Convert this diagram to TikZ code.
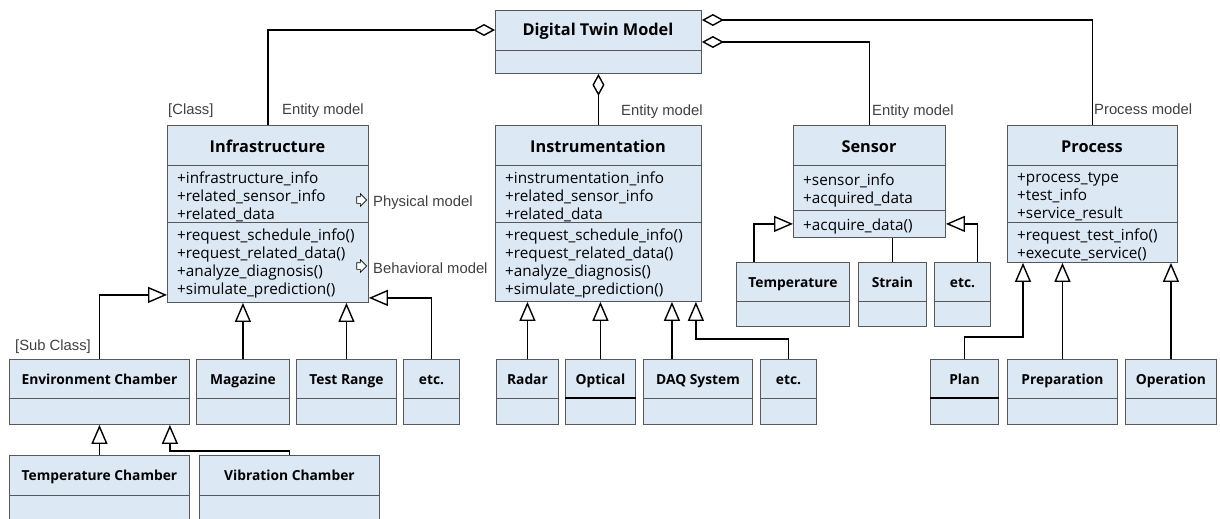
\documentclass[tikz,border=0pt]{standalone}
\usepackage{fontspec}
\setmainfont{Open Sans}
\newfontfamily\labelfont{Liberation Sans}
\usetikzlibrary{arrows.meta,shapes.arrows}
\definecolor{boxfill}{RGB}{221,232,245}
\definecolor{boxline}{RGB}{88,88,88}
\definecolor{labelgray}{RGB}{64,64,64}

\begin{document}
\begin{tikzpicture}[x=1pt,y=-1pt,
    classbox/.style={draw=boxline, fill=boxfill, line width=0.9pt, anchor=north west, inner sep=0pt},
    divline/.style={draw=boxline, line width=0.9pt},
    classtitle/.style={anchor=base, inner sep=0pt, font=\fontsize{16.3}{18}\selectfont\bfseries},
    subtitle/.style={anchor=base, inner sep=0pt, font=\fontsize{13.8}{16}\selectfont\bfseries},
    members/.style={anchor=north west, align=left, inner sep=0pt, font=\fontsize{15.3}{18}\selectfont},
    lbl/.style={font=\labelfont\fontsize{14.8}{16}\selectfont, text=labelgray, inner sep=0pt, anchor=base west},
    conn/.style={line width=1.4pt},
    agg/.style={conn, -{Diamond[open, length=22pt, width=12pt]}},
    gen/.style={conn, -{Triangle[open, length=19pt, width=16pt]}},
    hollowarrow/.style={single arrow, draw=black, fill=white, line width=0.7pt, inner sep=3pt, minimum height=8pt, single arrow head extend=3pt}
]
\useasboundingbox (0,0) rectangle (1220,519);
\clip (0,0) rectangle (1220,519);

% Main classes
\node[classbox, minimum width=206, minimum height=63] (dtm) at (495,10) {};
\draw[divline] ([yshift=-40pt]dtm.north west) -- ([yshift=-40pt]dtm.north east);
\node[classtitle] (dtmtitle) at (598,36) {Digital Twin Model};

\node[classbox, minimum width=201, minimum height=177] (infra) at (167,125) {};
\draw[divline] ([yshift=-40pt]infra.north west) -- ([yshift=-40pt]infra.north east);
\draw[divline] ([yshift=-97pt]infra.north west) -- ([yshift=-97pt]infra.north east);
\node[classtitle] (infratitle) at (267.5,152) {Infrastructure};
\node[members] (infraattr) at (177,170.4) {\strut+infrastructure\_info\\+related\_sensor\_info\\+related\_data};
\node[members] (infraop) at (177,227.4) {\strut+request\_schedule\_info()\\+request\_related\_data()\\+analyze\_diagnosis()\\+simulate\_prediction()};

\node[classbox, minimum width=206, minimum height=176] (instr) at (495,125) {};
\draw[divline] ([yshift=-40pt]instr.north west) -- ([yshift=-40pt]instr.north east);
\draw[divline] ([yshift=-97pt]instr.north west) -- ([yshift=-97pt]instr.north east);
\node[classtitle] (instrtitle) at (598,152) {Instrumentation};
\node[members] (instrattr) at (505,170.4) {\strut+instrumentation\_info\\+related\_sensor\_info\\+related\_data};
\node[members] (instrop) at (505,227.4) {\strut+request\_schedule\_info()\\+request\_related\_data()\\+analyze\_diagnosis()\\+simulate\_prediction()};

\node[classbox, minimum width=152, minimum height=112] (sensor) at (793,125) {};
\draw[divline] ([yshift=-40pt]sensor.north west) -- ([yshift=-40pt]sensor.north east);
\draw[divline] ([yshift=-85pt]sensor.north west) -- ([yshift=-85pt]sensor.north east);
\node[classtitle] (sensortitle) at (869,152) {Sensor};
\node[members] (sensorattr) at (803,172.4) {\strut+sensor\_info\\+acquired\_data};
\node[members] (sensorop) at (803,217.4) {\strut+acquire\_data()};

\node[classbox, minimum width=170, minimum height=137] (process) at (1007,125) {};
\draw[divline] ([yshift=-40pt]process.north west) -- ([yshift=-40pt]process.north east);
\draw[divline] ([yshift=-97pt]process.north west) -- ([yshift=-97pt]process.north east);
\node[classtitle] (processtitle) at (1092,152) {Process};
\node[members] (processattr) at (1017,169.4) {\strut+process\_type\\+test\_info\\+service\_result};
\node[members] (processop) at (1017,227.4) {\strut+request\_test\_info()\\+execute\_service()};

% Sub classes
\foreach \nm/\x/\y/\w/\h/\t/\txt in {
    envch/9/359/180/65/39/Environment Chamber,
    mag/196/359/93/65/39/Magazine,
    testrange/296/359/100/65/39/Test Range,
    infraetc/403/359/56/65/39/etc.,
    tempch/9/455/180/70/40/Temperature Chamber,
    vibch/199/455/180/70/40/Vibration Chamber,
    radar/496/359/62/65/39/Radar,
    optical/565/359/70/65/39/Optical,
    daq/643/359/109/65/39/DAQ System,
    instretc/760/359/56/65/39/etc.,
    temp/736/262/113/64/39/Temperature,
    strain/858/262/68/64/39/Strain,
    sensetc/934/262/56/64/39/etc.,
    plan/930/359/68/65/39/Plan,
    prep/1007/359/110/65/39/Preparation,
    oper/1125/359/91/65/39/Operation}{
  \node[classbox, minimum width=\w, minimum height=\h] (\nm) at (\x,\y) {};
  \draw[divline] ([yshift=-\t pt]\nm.north west) -- ([yshift=-\t pt]\nm.north east);
  \node[subtitle] (\nm title) at ([yshift=-25.5pt]\nm.north) {\txt};
}
\draw[line width=1.5pt] ([yshift=-39pt]optical.north west) -- ([yshift=-39pt]optical.north east);
\draw[line width=1.5pt] ([yshift=-39pt]plan.north west) -- ([yshift=-39pt]plan.north east);

% Aggregation
\draw[agg] (infra.north) |- ([yshift=-20pt]dtm.north west);
\draw[agg] (instr.north) -- (dtm.south);
\draw[agg] (sensor.north) |- ([yshift=-32pt]dtm.north east);
\draw[agg] (process.north) |- ([yshift=-10pt]dtm.north east);

% Generalization
\draw[gen] (envch.north) |- ([yshift=8pt]infra.south west);
\draw[gen] (mag.north) -- (mag.north |- infra.south);
\draw[gen] (testrange.north) -- (testrange.north |- infra.south);
\draw[gen] (infraetc.north) |- ([yshift=5pt]infra.south east);
\draw[gen] (tempch.north) -- (tempch.north |- envch.south);
\draw[gen] (vibch.north) -- ++(0,-4) -| ([xshift=-20pt]envch.south east);
\draw[gen] (radar.north) -- (radar.north |- instr.south);
\draw[gen] (optical.north) -- (optical.north |- instr.south);
\draw[gen] ([xshift=-26pt]daq.north) -- ([xshift=-26pt]daq.north |- instr.south);
\draw[gen] (instretc.north) -- ++(0,-20) -| ([xshift=-6pt]instr.south east);
\draw[gen] ([xshift=-39pt]temp.north) |- ([yshift=14pt]sensor.south west);
\draw[conn] (strain.north) -- (strain.north |- sensor.south);
\draw[gen] ([xshift=15pt]sensetc.north) |- ([yshift=14pt]sensor.south east);
\draw[gen] (plan.north) -- ++(0,-22) -| ([xshift=16pt]process.south west);
\draw[gen] (prep.north) -- (prep.north |- process.south);
\draw[gen] (oper.north) -- (oper.north |- process.south);

% Labels
\node[lbl] (classlbl) at (168,114) {[Class]};
\node[lbl] (infralbl) at (282,114) {Entity model};
\node[lbl] (instrlbl) at (621,115) {Entity model};
\node[lbl] (sensorlbl) at (872,115) {Entity model};
\node[lbl] (processlbl) at (1094,114) {Process model};
\node[lbl] (subclasslbl) at (15,350) {[Sub Class]};
\node[hollowarrow] (physarrow) at (360,200) {};
\node[lbl] (physlbl) at (373,206) {Physical model};
\node[hollowarrow] (behavarrow) at (360,266) {};
\node[lbl] (behavlbl) at (373,273) {Behavioral model};
\end{tikzpicture}
\end{document}
